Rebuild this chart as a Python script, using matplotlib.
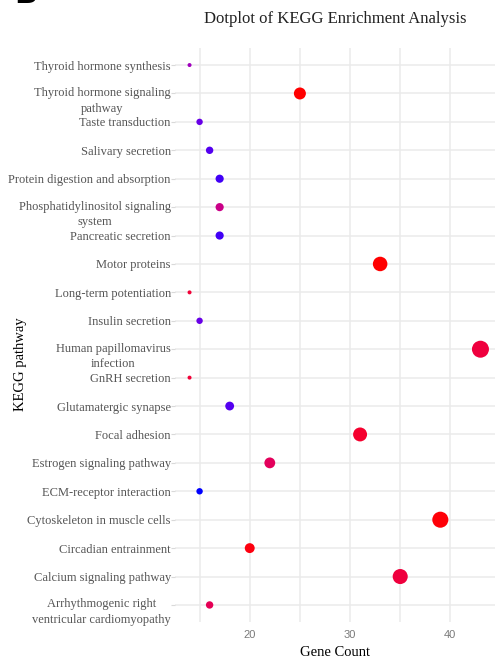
import numpy as np
import matplotlib
matplotlib.use("Agg")
import matplotlib.pyplot as plt
from matplotlib.transforms import ScaledTranslation

# KEGG pathways, top to bottom as listed on the y axis
pathways = [
    "Thyroid hormone synthesis",
    "Thyroid hormone signaling\npathway",
    "Taste transduction",
    "Salivary secretion",
    "Protein digestion and absorption",
    "Phosphatidylinositol signaling\nsystem",
    "Pancreatic secretion",
    "Motor proteins",
    "Long-term potentiation",
    "Insulin secretion",
    "Human papillomavirus\ninfection",
    "GnRH secretion",
    "Glutamatergic synapse",
    "Focal adhesion",
    "Estrogen signaling pathway",
    "ECM-receptor interaction",
    "Cytoskeleton in muscle cells",
    "Circadian entrainment",
    "Calcium signaling pathway",
    "Arrhythmogenic right\nventricular cardiomyopathy",
]
gene_count = [14, 25, 15, 16, 17, 17, 17, 33, 14, 15,
              43, 14, 18, 31, 22, 15, 39, 20, 35, 16]
p_adjust = [0.0310, 0.0020, 0.0380, 0.0395, 0.0405, 0.0220, 0.0405, 0.0020, 0.0080, 0.0380,
            0.0090, 0.0080, 0.0395, 0.0065, 0.0140, 0.0420, 0.0025, 0.0030, 0.0090, 0.0130]

# red -> blue gradient interpolated in CIE Lab
def srgb_to_lab(rgb):
    rgb = np.asarray(rgb, float)
    lin = np.where(rgb <= 0.04045, rgb / 12.92, ((rgb + 0.055) / 1.055) ** 2.4)
    m = np.array([[0.4124, 0.3576, 0.1805],
                  [0.2126, 0.7152, 0.0722],
                  [0.0193, 0.1192, 0.9505]])
    xyz = m @ lin / np.array([0.95047, 1.0, 1.08883])
    f = np.where(xyz > 0.008856, np.cbrt(xyz), 7.787 * xyz + 16 / 116)
    return np.array([116 * f[1] - 16, 500 * (f[0] - f[1]), 200 * (f[1] - f[2])])

def lab_to_srgb(lab):
    L, a, b = lab
    fy = (L + 16) / 116
    fx = fy + a / 500
    fz = fy - b / 200
    f = np.array([fx, fy, fz])
    xyz = np.where(f ** 3 > 0.008856, f ** 3, (f - 16 / 116) / 7.787)
    xyz = xyz * np.array([0.95047, 1.0, 1.08883])
    m = np.array([[3.2406, -1.5372, -0.4986],
                  [-0.9689, 1.8758, 0.0415],
                  [0.0557, -0.2040, 1.0570]])
    lin = m @ xyz
    rgb = np.where(lin <= 0.0031308, 12.92 * lin, 1.055 * np.clip(lin, 0, None) ** (1 / 2.4) - 0.055)
    return np.clip(rgb, 0, 1)

lab_low = srgb_to_lab([1, 0, 0])
lab_high = srgb_to_lab([0, 0, 1])
p = np.array(p_adjust)
t = (p - p.min()) / (p.max() - p.min())
colors = [lab_to_srgb(lab_low + (lab_high - lab_low) * ti) for ti in t]

# point size by gene count (area scale, diameter in px)
cnt = np.array(gene_count)
diam = 4 + 13 * np.sqrt((cnt - cnt.min()) / (cnt.max() - cnt.min()))
sizes = (diam * 0.72) ** 2

plt.rcParams["font.family"] = ["Liberation Serif", "DejaVu Serif"]

fig = plt.figure(figsize=(4.95, 6.6), dpi=100)
ax = fig.add_axes([175 / 495, 1 - 622 / 660, 320 / 495, 574 / 660])

ypos = np.arange(len(pathways))[::-1]
ax.scatter(gene_count, ypos, s=sizes, c=colors, linewidths=0, zorder=3)

ax.set_xlim(cnt.min() - 0.05 * (cnt.max() - cnt.min()), cnt.max() + 0.05 * (cnt.max() - cnt.min()))
ax.set_ylim(-0.6, len(pathways) - 0.4)
ax.set_xticks([20, 30, 40])
ax.set_xticks([15, 25, 35], minor=True)
ax.set_yticks(ypos)
ax.set_yticklabels(pathways, multialignment="center", fontsize=9, color="#555555",
                   linespacing=1.4)
ax.tick_params(axis="x", which="both", length=0, labelsize=8, labelcolor="#7a7a7a", pad=6)
ax.tick_params(axis="y", length=3, color="#d9d9d9", pad=0)
for lbl in ax.get_xticklabels():
    lbl.set_family(["Liberation Sans", "DejaVu Sans"])

# wrapped names sit slightly below their row
shift = ScaledTranslation(0, -2.9 / 72, fig.dpi_scale_trans)
for lbl in ax.get_yticklabels():
    if "\n" in lbl.get_text():
        lbl.set_transform(lbl.get_transform() + shift)

ax.grid(True, which="both", color="#ebebeb", linewidth=1.1, zorder=0)
ax.set_axisbelow(True)
for sp in ax.spines.values():
    sp.set_visible(False)

ax.set_xlabel("Gene Count", fontsize=10.5, labelpad=4)
ax.set_ylabel("KEGG pathway", fontsize=10.5, va="center")
ax.yaxis.set_label_coords(-154 / 320, 0.45)
ax.set_title("Dotplot of KEGG Enrichment Analysis", fontsize=12, pad=18, color="#222222")

# panel letter, clipped at the top edge
fig.text(0.028, 1 - 3 / 660, "B", fontsize=22, fontweight="bold", family="DejaVu Sans",
         va="baseline", ha="left")

fig.savefig("out.png", dpi=100)
